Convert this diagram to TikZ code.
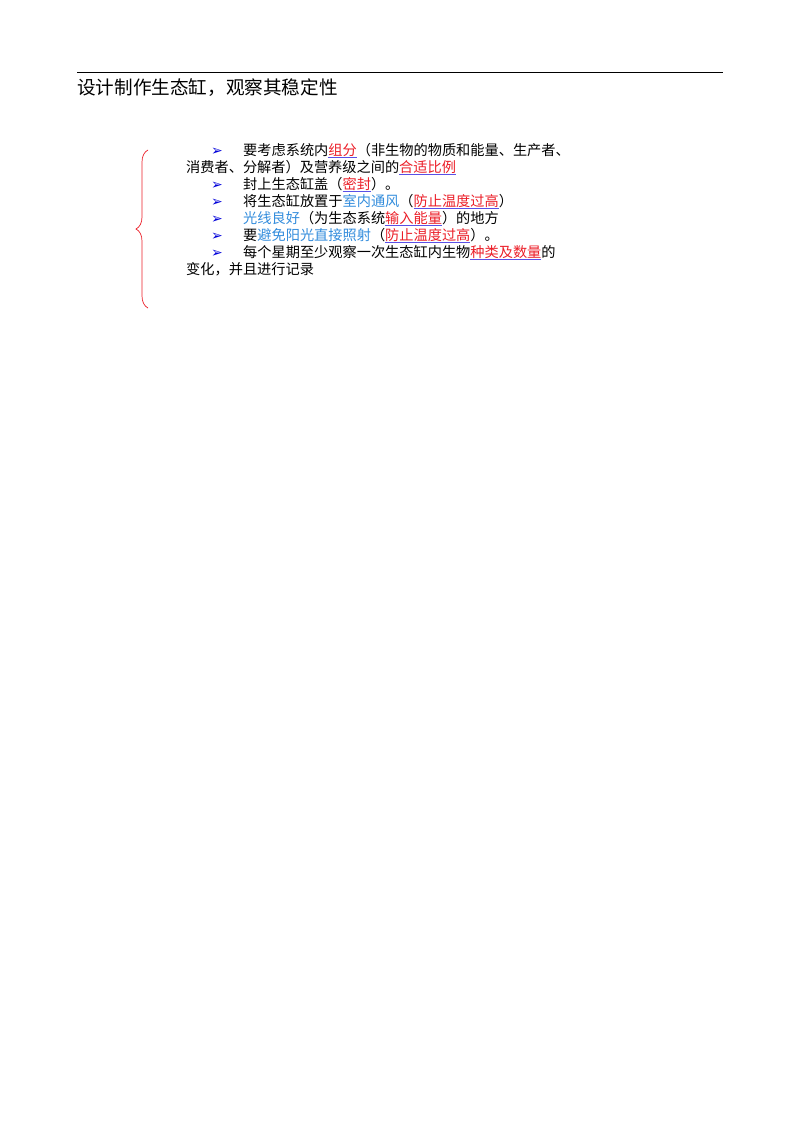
\documentclass[tikz,border=0pt]{standalone}
\usepackage{fontspec}
\setmainfont{Noto Sans CJK SC}
\newfontfamily\symfont{DejaVu Sans}
\usetikzlibrary{decorations.pathreplacing}
\definecolor{keyred}{RGB}{235,30,40}
\definecolor{keyblue}{RGB}{50,140,220}
\definecolor{ulblue}{RGB}{90,80,230}
\newcommand{\keyw}[1]{{\color{ulblue}\underline{\textcolor{keyred}{#1}}}}
\newcommand{\soft}[1]{\textcolor{keyblue}{#1}}
\tikzset{
  line/.style={anchor=base west, inner sep=0pt, font=\fontsize{14.2}{15}\selectfont},
  mark arrow/.style={anchor=base west, inner sep=0pt, text=blue!85!black, font=\symfont\fontsize{14}{15}\selectfont}
}
\begin{document}
\begin{tikzpicture}[x=1pt,y=-1pt]
      \useasboundingbox (0,0) rectangle (800,1132);
      \draw[line width=0.8pt] (77,72) -- (723,72);
      \node[anchor=base west, inner sep=0pt, font=\fontsize{18.6}{19}\selectfont] (title) at (77,94) {设计制作生态缸，观察其稳定性};
      % brace
      \draw[keyred, line width=0.7pt, decorate, decoration={brace, amplitude=12pt, aspect=0.5}]
        (148,308) -- (148,150);
      % bullets
      \foreach \y in {155,189,206,223,240,257}{
        \node[mark arrow] at (211,\y) {➢};
      }
      \node[line] (l1) at (243,155) {要考虑系统内\keyw{组分}（非生物的物质和能量、生产者、};
      \node[line] (l1b) at (186,172) {消费者、分解者）及营养级之间的\keyw{合适比例}};
      \node[line] (l2) at (243,189) {封上生态缸盖（\keyw{密封}）。};
      \node[line] (l3) at (243,206) {将生态缸放置于\soft{室内通风}（\keyw{防止温度过高}）};
      \node[line] (l4) at (243,223) {\soft{光线良好}（为生态系统\keyw{输入能量}）的地方};
      \node[line] (l5) at (243,240) {要\soft{避免阳光直接照射}（\keyw{防止温度过高}）。};
      \node[line] (l6) at (243,257) {每个星期至少观察一次生态缸内生物\keyw{种类及数量}的};
      \node[line] (l6b) at (186,274) {变化，并且进行记录};
\end{tikzpicture}
\end{document}
